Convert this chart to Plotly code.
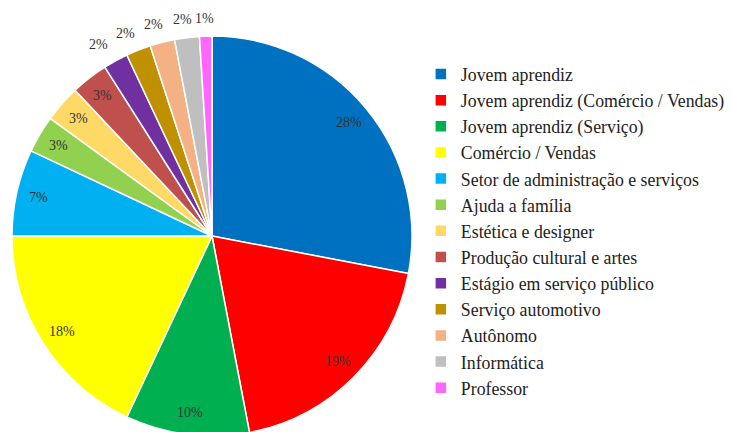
import math
import plotly.graph_objects as go

categories = [
    "Jovem aprendiz",
    "Jovem aprendiz (Comércio / Vendas)",
    "Jovem aprendiz (Serviço)",
    "Comércio / Vendas",
    "Setor de administração e serviços",
    "Ajuda a família",
    "Estética e designer",
    "Produção cultural e artes",
    "Estágio em serviço público",
    "Serviço automotivo",
    "Autônomo",
    "Informática",
    "Professor",
]
values = [28, 19, 10, 18, 7, 3, 3, 3, 2, 2, 2, 2, 1]
colors = ["#0070C0", "#FF0000", "#00B050", "#FFFF00", "#00B0F0", "#92D050",
          "#FFD966", "#C0504D", "#7030A0", "#BF9000", "#F4B183", "#BFBFBF", "#FF66FF"]
outside = [False] * 8 + [True] * 5

W, H = 732, 432
# pie geometry in pixels (figure coordinates)
top_px, bot_px = 28, 428
R = (bot_px - top_px) / 2.0
cx_px = 204.0
cy_px = top_px + R
dom_x = [(cx_px - R) / W, (cx_px + R) / W]
dom_y = [1 - bot_px / H, 1 - top_px / H]

FONT = "Liberation Serif"

fig = go.Figure(go.Pie(
    labels=categories,
    values=values,
    sort=False,
    direction="clockwise",
    rotation=0,
    marker=dict(colors=colors, line=dict(color="white", width=1.5)),
    textinfo="none",
    hoverinfo="label+percent",
    domain=dict(x=dom_x, y=dom_y),
))

# percentage labels placed from the data (cumulative angles)
total = sum(values)
cum = 0
annotations = []
for v, out in zip(values, outside):
    mid = (cum + v / 2.0) / total * 2 * math.pi
    cum += v
    r = R * (1.09 if out else 0.89)
    px = cx_px + r * math.sin(mid) * (1.08 if out else 1.0)
    py = cy_px - r * math.cos(mid)
    annotations.append(dict(
        x=px / W, y=1 - py / H, xref="paper", yref="paper",
        text=f"{round(v / total * 100)}%", showarrow=False,
        font=dict(family=FONT, size=14, color="#333333"),
        xanchor="center", yanchor="middle",
    ))

fig.update_layout(
    width=W, height=H,
    margin=dict(l=0, r=0, t=0, b=0),
    paper_bgcolor="white",
    showlegend=True,
    annotations=annotations,
    legend=dict(
        x=0.564, y=0.889, xanchor="left", yanchor="top",
        font=dict(family=FONT, size=17.8, color="#222222"),
        itemwidth=30,
    ),
)

fig.write_html("out.html")
